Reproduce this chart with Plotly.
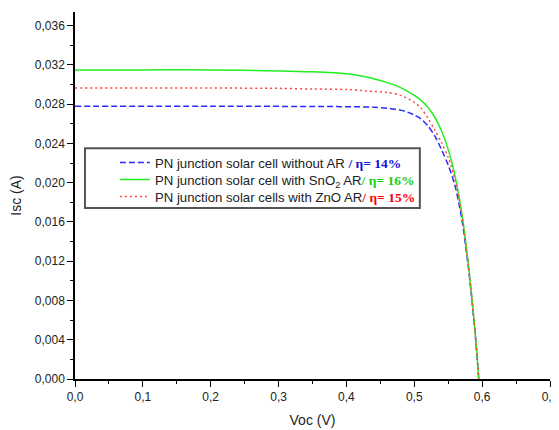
import plotly.graph_objects as go

# Data
v_blue = [0, 0.2, 0.4, 0.44, 0.46, 0.48, 0.49, 0.50, 0.51, 0.52, 0.53, 0.54, 0.55, 0.56, 0.57, 0.58, 0.59, 0.595]
i_blue = [0.0278, 0.0278, 0.02775, 0.0277, 0.0276, 0.0274, 0.0272, 0.0269, 0.0265, 0.0258, 0.0248, 0.0234, 0.0218, 0.0197, 0.0163, 0.0112, 0.0044, 0.0]

v_green = [0, 0.1, 0.2, 0.3, 0.35, 0.40, 0.42, 0.44, 0.46, 0.48, 0.50, 0.51, 0.52, 0.53, 0.54, 0.55, 0.56, 0.57, 0.58, 0.59, 0.595]
i_green = [0.0315, 0.0315, 0.0315, 0.0314, 0.0313, 0.0311, 0.0309, 0.0306, 0.0302, 0.0297, 0.0289, 0.0284, 0.0277, 0.0267, 0.0253, 0.0234, 0.0207, 0.0169, 0.0115, 0.0045, 0.0]

v_red = [0, 0.2, 0.30, 0.35, 0.40, 0.43, 0.46, 0.48, 0.50, 0.51, 0.52, 0.53, 0.54, 0.55, 0.56, 0.57, 0.58, 0.59, 0.595]
i_red = [0.02965, 0.02965, 0.02962, 0.02955, 0.0295, 0.02935, 0.0292, 0.0289, 0.0282, 0.0276, 0.0266, 0.0254, 0.0241, 0.0226, 0.0203, 0.0167, 0.0114, 0.0045, 0.0]

serif = "font-family:'Liberation Serif','Times New Roman',serif;font-weight:bold;font-size:13.5px"
names = [
    "PN junction solar cell without AR <span style=\"color:#1010e0;" + serif + "\">/ η= 14%</span>",
    "PN junction solar cell with SnO<sub>2</sub> AR<span style=\"color:#10d010;" + serif + "\">/ η= 16%</span>",
    "PN junction solar cells with ZnO AR<span style=\"color:#ff0000;" + serif + "\">/ η= 15%</span>",
]

fig = go.Figure()
fig.add_trace(go.Scatter(x=v_blue, y=i_blue, mode="lines", name=names[0], legend="legend",
                         line=dict(color="#2a2aff", dash="6px,3px", width=1.5, shape="spline", smoothing=0.8)))
fig.add_trace(go.Scatter(x=v_green, y=i_green, mode="lines", name=names[1], legend="legend2",
                         line=dict(color="#22ee22", width=1.5, shape="spline", smoothing=0.8)))
fig.add_trace(go.Scatter(x=v_red, y=i_red, mode="lines", name=names[2], legend="legend3",
                         line=dict(color="#ff4444", dash="2px,3px", width=1.5, shape="spline", smoothing=0.8)))

# legend frame (the reference has wide left padding inside the box)
fig.add_shape(type="rect", xref="paper", yref="paper",
              x0=0.021, x1=0.726, y0=0.466, y1=0.629,
              line=dict(color="#555", width=2), fillcolor="white", layer="below")

leg = dict(x=0.084, xanchor="left", yanchor="middle", borderwidth=0,
           bgcolor="rgba(0,0,0,0)", font=dict(size=13.2), itemwidth=30)

fig.update_layout(
    width=551, height=422,
    margin=dict(l=67, r=9, t=4, b=51),
    paper_bgcolor="white", plot_bgcolor="white",
    font=dict(family="Liberation Sans, Arial, sans-serif", size=12, color="#222"),
    separators=",.",
    showlegend=True,
    legend=dict(leg, y=0.5886),
    legend2=dict(leg, y=0.5422),
    legend3=dict(leg, y=0.4959),
)
fig.update_xaxes(range=[0, 0.7], dtick=0.1, tickformat=".1f", automargin=False,
                 showline=True, linecolor="black", linewidth=1.5,
                 ticks="outside", ticklen=6, tickcolor="black",
                 minor=dict(dtick=0.05, ticks="outside", ticklen=3, tickcolor="black"),
                 showgrid=False, zeroline=False,
                 title=dict(text="Voc (V)", standoff=12))
fig.update_yaxes(range=[0, 0.0374], dtick=0.004, tick0=0, tickformat=".3f", automargin=False,
                 showline=True, linecolor="black", linewidth=1.5,
                 ticks="outside", ticklen=6, tickcolor="black",
                 minor=dict(dtick=0.002, ticks="outside", ticklen=3, tickcolor="black"),
                 showgrid=False, zeroline=False,
                 title=dict(text="Isc (A)", standoff=10))

fig.write_html("out.html")
